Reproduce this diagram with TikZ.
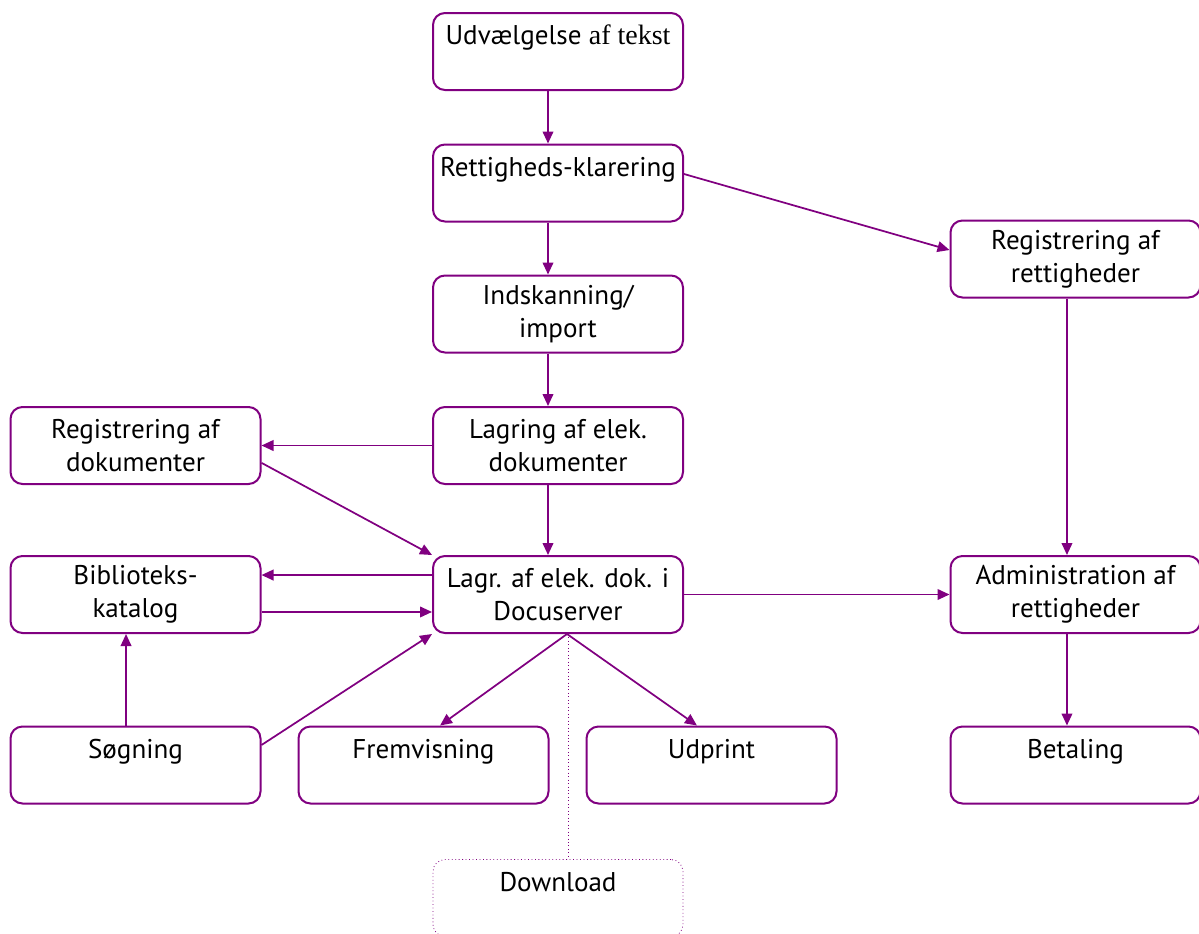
\documentclass[tikz,border=0pt]{standalone}
\usepackage{fontspec}
\setmainfont{PT Sans}
\newfontfamily\serifpart{Liberation Serif}
\usetikzlibrary{arrows.meta}
\definecolor{purp}{HTML}{800080}
\tikzset{
  box/.style={draw=purp, line width=1.5pt, rounded corners=9pt, minimum width=187.5pt, minimum height=57.75pt, inner sep=0pt, align=center, font=\fontsize{20.3}{24.75}\selectfont},
  dlbox/.style={box, line width=0.6pt, dotted},
  arr/.style={draw=purp, line width=1.3pt, -{Triangle[length=9pt,width=8pt]}},
  dotline/.style={draw=purp, line width=0.6pt, dotted}
}
\begin{document}
\begin{tikzpicture}[x=0.75pt,y=-0.75pt]
\useasboundingbox (0,0) rectangle (1199,933);
\node[box] (udv) at (558,51.5) {Udvælgelse {\serifpart\fontsize{21}{24.75}\selectfont af tekst}\\ \mbox{}};
\node[box] (ret) at (558,183) {Rettigheds-klarering\\ \mbox{}};
\node[box] (ind) at (558,314) {Indskanning/\\import};
\node[box] (lag) at (558,445.5) {Lagring af elek.\\dokumenter};
\node[box] (doc) at (558,594.5) {Lagr. af elek. dok. i\\Docuserver};
\node[box] (regr) at (1075.5,259) {Registrering af\\rettigheder};
\node[box] (adm) at (1075.5,594.5) {Administration af\\rettigheder};
\node[box] (bet) at (1075.5,765) {Betaling\\ \mbox{}};
\node[box] (regd) at (135.5,445.5) {Registrering af\\dokumenter};
\node[box] (bib) at (135.5,594.5) {Biblioteks-\\katalog};
\node[box] (sog) at (135.5,765) {Søgning\\ \mbox{}};
\node[box] (frem) at (423.5,765) {Fremvisning\\ \mbox{}};
\node[box] (udp) at (711.5,765) {Udprint\\ \mbox{}};
\node[dlbox] (dl) at (558,898) {Download\\ \mbox{}};

\draw[arr] ([xshift=-7.5pt]udv.south) -- ([xshift=-7.5pt]ret.north);
\draw[arr] ([xshift=-7.5pt]ret.south) -- ([xshift=-7.5pt]ind.north);
\draw[arr] ([xshift=-7.5pt]ind.south) -- ([xshift=-7.5pt]lag.north);
\draw[arr] ([xshift=-7.5pt]lag.south) -- ([xshift=-7.5pt]doc.north);
\draw[arr] ([yshift=6.75pt]ret.east) -- ([yshift=6.75pt]regr.west);
\draw[arr] ([xshift=-6.4pt]regr.south) -- ([xshift=-6.4pt]adm.north);
\draw[arr] ([xshift=-6.4pt]adm.south) -- ([xshift=-6.4pt]bet.north);
\draw[arr] (doc.east) -- (adm.west);
\draw[arr] (lag.west) -- (regd.east);
\draw[arr] ([yshift=-13pt]regd.east) -- (doc.north west);
\draw[arr] ([yshift=14.6pt]doc.west) -- ([yshift=14.6pt]bib.east);
\draw[arr] ([yshift=-13.1pt]bib.east) -- ([yshift=-13.1pt]doc.west);
\draw[arr] ([xshift=-7.1pt]sog.north) -- ([xshift=-7.1pt]bib.south);
\draw[arr] ([yshift=15pt]sog.east) -- (doc.south west);
\draw[arr] ([xshift=6.75pt]doc.south) -- ([xshift=12.4pt]frem.north);
\draw[arr] ([xshift=6.75pt]doc.south) -- ([xshift=-10.9pt]udp.north);
\draw[dotline] ([xshift=7.5pt]doc.south) -- ([xshift=7.5pt]dl.north);
\end{tikzpicture}
\end{document}
